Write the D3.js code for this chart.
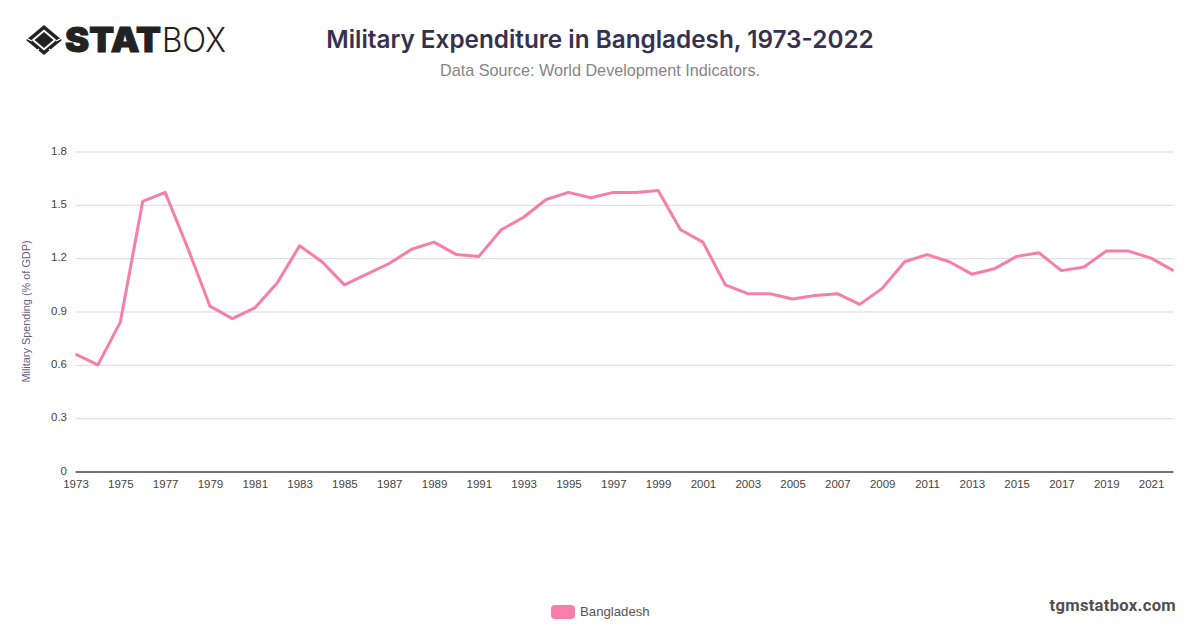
<!DOCTYPE html>
<html>
<head>
<meta charset="utf-8">
<script src="https://cdn.jsdelivr.net/npm/d3@7"></script>
<style>
    html, body { margin: 0; padding: 0; background: #fff; }
    svg { display: block; }
    text { font-family: "Liberation Sans", Arial, sans-serif; }
</style>
</head>
<body>
<div id="chart"></div>
<script>
const years = [1973, 1974, 1975, 1976, 1977, 1978, 1979, 1980, 1981, 1982,
    1983, 1984, 1985, 1986, 1987, 1988, 1989, 1990, 1991, 1992,
    1993, 1994, 1995, 1996, 1997, 1998, 1999, 2000, 2001, 2002,
    2003, 2004, 2005, 2006, 2007, 2008, 2009, 2010, 2011, 2012,
    2013, 2014, 2015, 2016, 2017, 2018, 2019, 2020, 2021, 2022]
const spending = [0.66, 0.60, 0.84, 1.52, 1.57, 1.26, 0.93, 0.86, 0.92, 1.06,
    1.27, 1.18, 1.05, 1.11, 1.17, 1.25, 1.29, 1.22, 1.21, 1.36,
    1.43, 1.53, 1.57, 1.54, 1.57, 1.57, 1.58, 1.36, 1.29, 1.05,
    1.00, 1.00, 0.97, 0.99, 1.00, 0.94, 1.03, 1.18, 1.22, 1.18,
    1.11, 1.14, 1.21, 1.23, 1.13, 1.15, 1.24, 1.24, 1.20, 1.13]
const yTicks = [0, 0.3, 0.6, 0.9, 1.2, 1.5, 1.8]
const seriesName = 'Bangladesh'

const width = 1200
const height = 628
const margin = { top: 151.5, right: 26.5, bottom: 156.5, left: 75.5 }
const pink = '#f67fa9'

const svg = d3.select('#chart').append('svg')
    .attr('width', width)
    .attr('height', height)

const x = d3.scaleLinear()
    .domain([1973, 2022])
    .range([margin.left, width - margin.right])

const y = d3.scaleLinear()
    .domain([0, 1.8])
    .range([height - margin.bottom, margin.top])

// Grid and y axis
const yAxis = svg.append('g')
    .attr('transform', `translate(${margin.left},0)`)
    .call(d3.axisLeft(y)
        .tickValues(yTicks)
        .tickSize(0)
        .tickPadding(8.5)
        .tickFormat(d => d === 0 ? '0' : d3.format('.1f')(d)))
yAxis.select('.domain').remove()
yAxis.selectAll('text')
    .attr('font-size', 11.5)
    .attr('dy', '0.22em')
    .attr('fill', '#444')
    .style('font-family', '"Liberation Sans", Arial, sans-serif')
yAxis.selectAll('line')
    .attr('x2', width - margin.right - margin.left)
    .attr('stroke', d => d === 0 ? '#444' : '#d9d9dd')
    .attr('stroke-width', d => d === 0 ? 1.3 : 1)

// X axis, every second year
const xAxis = svg.append('g')
    .attr('transform', `translate(0,${height - margin.bottom})`)
    .call(d3.axisBottom(x)
        .tickValues(years.filter((d, i) => i % 2 === 0))
        .tickSize(0)
        .tickPadding(8.5)
        .tickFormat(d3.format('d')))
xAxis.select('.domain').remove()
xAxis.selectAll('text')
    .attr('font-size', 11.5)
    .attr('fill', '#444')
    .style('font-family', '"Liberation Sans", Arial, sans-serif')

// Line
const line = d3.line()
    .x((d, i) => x(years[i]))
    .y(d => y(d))

svg.append('path')
    .datum(spending)
    .attr('fill', 'none')
    .attr('stroke', pink)
    .attr('stroke-width', 3)
    .attr('stroke-linejoin', 'round')
    .attr('d', line)

// Axis title
svg.append('text')
    .attr('transform', 'translate(29.5,311.5) rotate(-90)')
    .attr('text-anchor', 'middle')
    .attr('font-size', 10.9)
    .attr('fill', '#64607d')
    .text('Military Spending (% of GDP)')

// Titles
svg.append('text')
    .attr('x', 600)
    .attr('y', 48)
    .attr('text-anchor', 'middle')
    .attr('font-size', 24.3)
    .attr('font-weight', 600)
    .attr('fill', '#373150')
    .style('font-family', 'Inter, sans-serif')
    .text('Military Expenditure in Bangladesh, 1973-2022')

svg.append('text')
    .attr('x', 600)
    .attr('y', 76)
    .attr('text-anchor', 'middle')
    .attr('font-size', 16.2)
    .attr('fill', '#858585')
    .style('font-family', '"Liberation Sans", Arial, sans-serif')
    .text('Data Source: World Development Indicators.')

// Legend
svg.append('rect')
    .attr('x', 551)
    .attr('y', 605)
    .attr('width', 24)
    .attr('height', 14)
    .attr('rx', 4)
    .attr('fill', '#fb7dab')

svg.append('text')
    .attr('x', 580)
    .attr('y', 616)
    .attr('font-size', 13.2)
    .attr('fill', '#555')
    .text(seriesName)

// Site name
svg.append('text')
    .attr('x', 1176)
    .attr('y', 611)
    .attr('text-anchor', 'end')
    .attr('font-size', 16.6)
    .attr('font-weight', 700)
    .attr('fill', '#505050')
    .style('font-family', 'Roboto, sans-serif')
    .style('letter-spacing', '0.3px')
    .text('tgmstatbox.com')

// Logo
const logo = svg.append('g').attr('transform', 'translate(44,40)')
logo.append('path')
    .attr('d', 'M0,-15 L18,0 L0,15 L-18,0 Z M0,-10.5 L-12.5,0 L0,10.5 L12.5,0 Z')
    .attr('fill-rule', 'evenodd')
    .attr('fill', '#222')
logo.append('path')
    .attr('d', 'M0,-8 L9.5,0 L0,8 L-9.5,0 Z')
    .attr('fill', '#222')
logo.append('path')
    .attr('d', 'M-17,-1.5 L-12,1 M17,-1.5 L12,1 M-12,15 L-5,9 M12,15 L5,9')
    .attr('stroke', '#fff')
    .attr('stroke-width', 1.2)

svg.append('text')
    .attr('x', 65)
    .attr('y', 52)
    .attr('font-size', 34)
    .attr('font-weight', 900)
    .attr('fill', '#222')
    .attr('stroke', '#222')
    .attr('stroke-width', 1)
    .style('font-family', 'Inter, sans-serif')
    .attr('textLength', 96)
    .attr('lengthAdjust', 'spacingAndGlyphs')
    .text('STAT')

svg.append('text')
    .attr('x', 162)
    .attr('y', 52)
    .attr('font-size', 34)
    .attr('font-weight', 300)
    .attr('fill', '#222')
    .style('font-family', 'Inter, sans-serif')
    .attr('textLength', 64)
    .attr('lengthAdjust', 'spacingAndGlyphs')
    .text('BOX')
</script>
</body>
</html>
